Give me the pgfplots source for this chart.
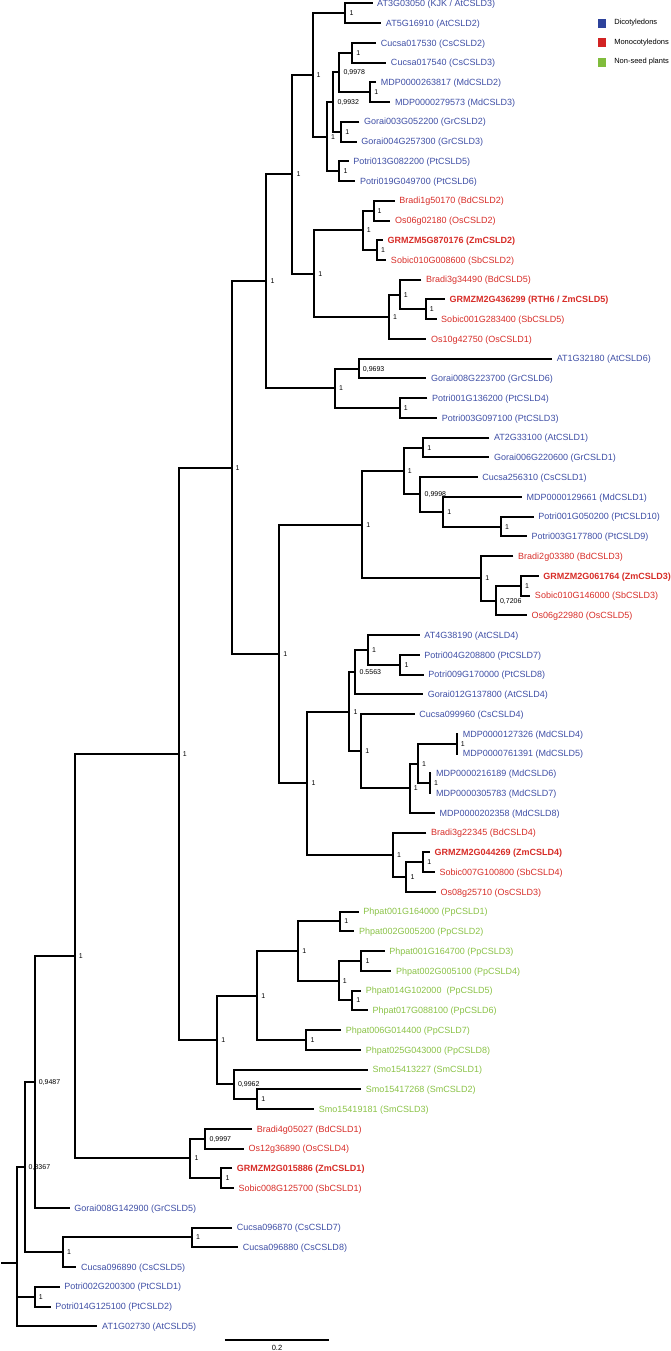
\documentclass[border=0pt]{standalone}
\usepackage{pgfplots}
\pgfplotsset{compat=1.18}
\usepackage{fontspec}
\setmainfont{Liberation Sans}
\definecolor{dicot}{RGB}{62,78,165}
\definecolor{mono}{RGB}{215,45,40}
\definecolor{nonseed}{RGB}{138,194,70}
\definecolor{dicotbox}{RGB}{45,66,155}
\definecolor{monobox}{RGB}{210,35,35}
\definecolor{nonseedbox}{RGB}{128,188,60}
\tikzset{tree/.style={black, line width=2bp, line join=miter, line cap=butt}}
\newcommand{\lf}[4]{\node[anchor=base west, inner sep=0pt, xshift=4.5bp, yshift=-3.2bp, text=#4, font=\fontsize{9}{10}\selectfont] at (axis cs:#1,#2) {#3};}
\newcommand{\bsv}[3]{\node[anchor=base west, inner sep=0pt, xshift=4bp, yshift=-2.5bp, font=\fontsize{7}{8}\selectfont] at (axis cs:#1,#2) {#3};}
\begin{document}
\begin{tikzpicture}
\begin{axis}[
  width=685bp, height=1351bp, scale only axis,
  xmin=0, xmax=685, ymin=0.6947, ymax=69.448, y dir=reverse,
  hide axis, clip=false,
  legend style={at={(axis description cs:0.8715,0.9845)}, anchor=north west, draw=none, fill=none,
    inner sep=0pt, row sep=11bp, column sep=9bp, font=\fontsize{7.5}{9}\selectfont,
    nodes={inner sep=0pt}},
  legend cell align=left,
]
\addlegendimage{legend image code/.code={\fill[dicotbox] (0bp,-4bp) rectangle (7bp,4bp);}}
\addlegendentry{Dicotyledons}
\addlegendimage{legend image code/.code={\fill[monobox] (0bp,-4bp) rectangle (7bp,4bp);}}
\addlegendentry{Monocotyledons}
\addlegendimage{legend image code/.code={\fill[nonseedbox] (0bp,-4bp) rectangle (7bp,4bp);}}
\addlegendentry{Non-seed plants}

% ---- tree branches (x in pixels, y in leaf index) ----
\addplot[tree, forget plot] coordinates {(373,1)(346,1)(346,2)(381.7,2)};
\addplot[tree, forget plot] coordinates {(376.7,3)(352.7,3)(352.7,4)(386.7,4)};
\addplot[tree, forget plot] coordinates {(376.7,5)(370.7,5)(370.7,6)(390.7,6)};
\addplot[tree, forget plot] coordinates {(352.7,3.5)(340,3.5)(340,5.5)(370.7,5.5)};
\addplot[tree, forget plot] coordinates {(360,7)(341.7,7)(341.7,8)(357.3,8)};
\addplot[tree, forget plot] coordinates {(340,4.5)(334,4.5)(334,7.5)(341.7,7.5)};
\addplot[tree, forget plot] coordinates {(349.3,9)(340,9)(340,10)(356,10)};
\addplot[tree, forget plot] coordinates {(334,6)(327.7,6)(327.7,9.5)(340,9.5)};
\addplot[tree, forget plot] coordinates {(346,1.5)(313.3,1.5)(313.3,7.75)(327.7,7.75)};
\addplot[tree, forget plot] coordinates {(395,11)(374,11)(374,12)(390.7,12)};
\addplot[tree, forget plot] coordinates {(383.3,13)(377.3,13)(377.3,14)(386.7,14)};
\addplot[tree, forget plot] coordinates {(374,11.5)(363.3,11.5)(363.3,13.5)(377.3,13.5)};
\addplot[tree, forget plot] coordinates {(445,16)(426,16)(426,17)(436.7,17)};
\addplot[tree, forget plot] coordinates {(421.7,15)(400,15)(400,16.5)(426,16.5)};
\addplot[tree, forget plot] coordinates {(400,15.75)(389.3,15.75)(389.3,18)(426.7,18)};
\addplot[tree, forget plot] coordinates {(363.3,12.5)(315,12.5)(315,16.875)(389.3,16.875)};
\addplot[tree, forget plot] coordinates {(313.3,4.625)(293.3,4.625)(293.3,14.6875)(315,14.6875)};
\addplot[tree, forget plot] coordinates {(551.7,19)(359.3,19)(359.3,20)(426.7,20)};
\addplot[tree, forget plot] coordinates {(427.7,21)(400,21)(400,22)(437.3,22)};
\addplot[tree, forget plot] coordinates {(359.3,19.5)(335.7,19.5)(335.7,21.5)(400,21.5)};
\addplot[tree, forget plot] coordinates {(293.3,9.656)(267.5,9.656)(267.5,20.5)(335.7,20.5)};
\addplot[tree, forget plot] coordinates {(489.3,23)(423.3,23)(423.3,24)(489.3,24)};
\addplot[tree, forget plot] coordinates {(533.3,27)(500.7,27)(500.7,28)(526.7,28)};
\addplot[tree, forget plot] coordinates {(521.7,26)(443.3,26)(443.3,27.5)(500.7,27.5)};
\addplot[tree, forget plot] coordinates {(477.7,25)(420.7,25)(420.7,26.75)(443.3,26.75)};
\addplot[tree, forget plot] coordinates {(423.3,23.5)(404,23.5)(404,25.875)(420.7,25.875)};
\addplot[tree, forget plot] coordinates {(538.3,30)(520.7,30)(520.7,31)(530,31)};
\addplot[tree, forget plot] coordinates {(520.7,30.5)(495.7,30.5)(495.7,32)(526.7,32)};
\addplot[tree, forget plot] coordinates {(513.3,29)(481,29)(481,31.25)(495.7,31.25)};
\addplot[tree, forget plot] coordinates {(404,24.6875)(362.7,24.6875)(362.7,30.125)(481,30.125)};
\addplot[tree, forget plot] coordinates {(420,34)(400.7,34)(400.7,35)(424,35)};
\addplot[tree, forget plot] coordinates {(420,33)(368.3,33)(368.3,34.5)(400.7,34.5)};
\addplot[tree, forget plot] coordinates {(368.3,33.75)(356,33.75)(356,36)(423.3,36)};
\addplot[tree, forget plot] coordinates {(458.3,38)(456.7,38)(456.7,39)(458.3,39)};
\addplot[tree, forget plot] coordinates {(431.7,40)(430,40)(430,41)(431.7,41)};
\addplot[tree, forget plot] coordinates {(456.7,38.5)(418.3,38.5)(418.3,40.5)(430,40.5)};
\addplot[tree, forget plot] coordinates {(418.3,39.5)(410,39.5)(410,42)(435,42)};
\addplot[tree, forget plot] coordinates {(415,37)(361.7,37)(361.7,40.75)(410,40.75)};
\addplot[tree, forget plot] coordinates {(356,34.875)(350,34.875)(350,38.875)(361.7,38.875)};
\addplot[tree, forget plot] coordinates {(430,44)(423.3,44)(423.3,45)(435,45)};
\addplot[tree, forget plot] coordinates {(423.3,44.5)(406.7,44.5)(406.7,46)(436,46)};
\addplot[tree, forget plot] coordinates {(426.7,43)(393.3,43)(393.3,45.25)(406.7,45.25)};
\addplot[tree, forget plot] coordinates {(350,36.875)(308.3,36.875)(308.3,44.125)(393.3,44.125)};
\addplot[tree, forget plot] coordinates {(362.7,27.406)(280,27.406)(280,40.5)(308.3,40.5)};
\addplot[tree, forget plot] coordinates {(267.5,15.078)(232.7,15.078)(232.7,33.953)(280,33.953)};
\addplot[tree, forget plot] coordinates {(359.3,47)(340.7,47)(340.7,48)(355,48)};
\addplot[tree, forget plot] coordinates {(385,49)(362,49)(362,50)(391.7,50)};
\addplot[tree, forget plot] coordinates {(361.7,51)(352.7,51)(352.7,52)(368.3,52)};
\addplot[tree, forget plot] coordinates {(362,49.5)(339.3,49.5)(339.3,51.5)(352.7,51.5)};
\addplot[tree, forget plot] coordinates {(340.7,47.5)(299,47.5)(299,50.5)(339.3,50.5)};
\addplot[tree, forget plot] coordinates {(341.7,53)(307.3,53)(307.3,54)(361.7,54)};
\addplot[tree, forget plot] coordinates {(299,49)(258.3,49)(258.3,53.5)(307.3,53.5)};
\addplot[tree, forget plot] coordinates {(361.7,56)(258.3,56)(258.3,57)(315,57)};
\addplot[tree, forget plot] coordinates {(368.3,55)(235,55)(235,56.5)(258.3,56.5)};
\addplot[tree, forget plot] coordinates {(258.3,51.25)(218.3,51.25)(218.3,55.75)(235,55.75)};
\addplot[tree, forget plot] coordinates {(232.7,24.516)(180,24.516)(180,53.5)(218.3,53.5)};
\addplot[tree, forget plot] coordinates {(253.3,58)(206.7,58)(206.7,59)(245,59)};
\addplot[tree, forget plot] coordinates {(233.3,60)(222.7,60)(222.7,61)(235,61)};
\addplot[tree, forget plot] coordinates {(206.7,58.5)(191.7,58.5)(191.7,60.5)(222.7,60.5)};
\addplot[tree, forget plot] coordinates {(180,39.008)(76.7,39.008)(76.7,59.5)(191.7,59.5)};
\addplot[tree, forget plot] coordinates {(76.7,49.254)(36.7,49.254)(36.7,62)(71.7,62)};
\addplot[tree, forget plot] coordinates {(233.3,63)(193.3,63)(193.3,64)(239.3,64)};
\addplot[tree, forget plot] coordinates {(193.3,63.5)(65,63.5)(65,65)(78.3,65)};
\addplot[tree, forget plot] coordinates {(36.7,55.627)(26.7,55.627)(26.7,64.25)(65,64.25)};
\addplot[tree, forget plot] coordinates {(61.7,66)(36.7,66)(36.7,67)(52.7,67)};
\addplot[tree, forget plot] coordinates {(26.7,59.94)(19.3,59.94)(19.3,68)(99.3,68)};
\addplot[tree, forget plot] coordinates {(19.3,66.5)(36.7,66.5)};
\addplot[tree, forget plot] coordinates {(3.3,64.82)(19.3,64.82)};
% scale bar
\addplot[tree, forget plot] coordinates {(226,68.72)(330,68.72)};
\node[anchor=north, inner sep=0pt, yshift=-5bp, font=\fontsize{7.5}{9}\selectfont] at (axis cs:278,68.72) {0.2};

% ---- leaf labels ----
\lf{373}{1}{AT3G03050 (KJK / AtCSLD3)}{dicot}
\lf{381.7}{2}{AT5G16910 (AtCSLD2)}{dicot}
\lf{376.7}{3}{Cucsa017530 (CsCSLD2)}{dicot}
\lf{386.7}{4}{Cucsa017540 (CsCSLD3)}{dicot}
\lf{376.7}{5}{MDP0000263817 (MdCSLD2)}{dicot}
\lf{390.7}{6}{MDP0000279573 (MdCSLD3)}{dicot}
\lf{360}{7}{Gorai003G052200 (GrCSLD2)}{dicot}
\lf{357.3}{8}{Gorai004G257300 (GrCSLD3)}{dicot}
\lf{349.3}{9}{Potri013G082200 (PtCSLD5)}{dicot}
\lf{356}{10}{Potri019G049700 (PtCSLD6)}{dicot}
\lf{395}{11}{Bradi1g50170 (BdCSLD2)}{mono}
\lf{390.7}{12}{Os06g02180 (OsCSLD2)}{mono}
\lf{383.3}{13}{\bfseries GRMZM5G870176 (ZmCSLD2)}{mono}
\lf{386.7}{14}{Sobic010G008600 (SbCSLD2)}{mono}
\lf{421.7}{15}{Bradi3g34490 (BdCSLD5)}{mono}
\lf{445}{16}{\bfseries GRMZM2G436299 (RTH6 / ZmCSLD5)}{mono}
\lf{436.7}{17}{Sobic001G283400 (SbCSLD5)}{mono}
\lf{426.7}{18}{Os10g42750 (OsCSLD1)}{mono}
\lf{551.7}{19}{AT1G32180 (AtCSLD6)}{dicot}
\lf{426.7}{20}{Gorai008G223700 (GrCSLD6)}{dicot}
\lf{427.7}{21}{Potri001G136200 (PtCSLD4)}{dicot}
\lf{437.3}{22}{Potri003G097100 (PtCSLD3)}{dicot}
\lf{489.3}{23}{AT2G33100 (AtCSLD1)}{dicot}
\lf{489.3}{24}{Gorai006G220600 (GrCSLD1)}{dicot}
\lf{477.7}{25}{Cucsa256310 (CsCSLD1)}{dicot}
\lf{521.7}{26}{MDP0000129661 (MdCSLD1)}{dicot}
\lf{533.3}{27}{Potri001G050200 (PtCSLD10)}{dicot}
\lf{526.7}{28}{Potri003G177800 (PtCSLD9)}{dicot}
\lf{513.3}{29}{Bradi2g03380 (BdCSLD3)}{mono}
\lf{538.3}{30}{\bfseries GRMZM2G061764 (ZmCSLD3)}{mono}
\lf{530}{31}{Sobic010G146000 (SbCSLD3)}{mono}
\lf{526.7}{32}{Os06g22980 (OsCSLD5)}{mono}
\lf{420}{33}{AT4G38190 (AtCSLD4)}{dicot}
\lf{420}{34}{Potri004G208800 (PtCSLD7)}{dicot}
\lf{424}{35}{Potri009G170000 (PtCSLD8)}{dicot}
\lf{423.3}{36}{Gorai012G137800 (AtCSLD4)}{dicot}
\lf{415}{37}{Cucsa099960 (CsCSLD4)}{dicot}
\lf{458.3}{38}{MDP0000127326 (MdCSLD4)}{dicot}
\lf{458.3}{39}{MDP0000761391 (MdCSLD5)}{dicot}
\lf{431.7}{40}{MDP0000216189 (MdCSLD6)}{dicot}
\lf{431.7}{41}{MDP0000305783 (MdCSLD7)}{dicot}
\lf{435}{42}{MDP0000202358 (MdCSLD8)}{dicot}
\lf{426.7}{43}{Bradi3g22345 (BdCSLD4)}{mono}
\lf{430}{44}{\bfseries GRMZM2G044269 (ZmCSLD4)}{mono}
\lf{435}{45}{Sobic007G100800 (SbCSLD4)}{mono}
\lf{436}{46}{Os08g25710 (OsCSLD3)}{mono}
\lf{359.3}{47}{Phpat001G164000 (PpCSLD1)}{nonseed}
\lf{355}{48}{Phpat002G005200 (PpCSLD2)}{nonseed}
\lf{385}{49}{Phpat001G164700 (PpCSLD3)}{nonseed}
\lf{391.7}{50}{Phpat002G005100 (PpCSLD4)}{nonseed}
\lf{361.7}{51}{Phpat014G102000\ \ (PpCSLD5)}{nonseed}
\lf{368.3}{52}{Phpat017G088100 (PpCSLD6)}{nonseed}
\lf{341.7}{53}{Phpat006G014400 (PpCSLD7)}{nonseed}
\lf{361.7}{54}{Phpat025G043000 (PpCSLD8)}{nonseed}
\lf{368.3}{55}{Smo15413227 (SmCSLD1)}{nonseed}
\lf{361.7}{56}{Smo15417268 (SmCSLD2)}{nonseed}
\lf{315}{57}{Smo15419181 (SmCSLD3)}{nonseed}
\lf{253.3}{58}{Bradi4g05027 (BdCSLD1)}{mono}
\lf{245}{59}{Os12g36890 (OsCSLD4)}{mono}
\lf{233.3}{60}{\bfseries GRMZM2G015886 (ZmCSLD1)}{mono}
\lf{235}{61}{Sobic008G125700 (SbCSLD1)}{mono}
\lf{71.7}{62}{Gorai008G142900 (GrCSLD5)}{dicot}
\lf{233.3}{63}{Cucsa096870 (CsCSLD7)}{dicot}
\lf{239.3}{64}{Cucsa096880 (CsCSLD8)}{dicot}
\lf{78.3}{65}{Cucsa096890 (CsCSLD5)}{dicot}
\lf{61.7}{66}{Potri002G200300 (PtCSLD1)}{dicot}
\lf{52.7}{67}{Potri014G125100 (PtCSLD2)}{dicot}
\lf{99.3}{68}{AT1G02730 (AtCSLD5)}{dicot}

% ---- branch support values ----
\bsv{346}{1.5}{1}
\bsv{352.7}{3.5}{1}
\bsv{370.7}{5.5}{1}
\bsv{340}{4.5}{0,9978}
\bsv{341.7}{7.5}{1}
\bsv{334}{6}{0,9932}
\bsv{340}{9.5}{1}
\bsv{327.7}{7.75}{1}
\bsv{313.3}{4.625}{1}
\bsv{374}{11.5}{1}
\bsv{377.3}{13.5}{1}
\bsv{363.3}{12.5}{1}
\bsv{426}{16.5}{1}
\bsv{400}{15.75}{1}
\bsv{389.3}{16.875}{1}
\bsv{315}{14.6875}{1}
\bsv{293.3}{9.656}{1}
\bsv{359.3}{19.5}{0,9693}
\bsv{400}{21.5}{1}
\bsv{335.7}{20.5}{1}
\bsv{267.5}{15.078}{1}
\bsv{423.3}{23.5}{1}
\bsv{500.7}{27.5}{1}
\bsv{443.3}{26.75}{1}
\bsv{420.7}{25.875}{0,9998}
\bsv{404}{24.6875}{1}
\bsv{520.7}{30.5}{1}
\bsv{495.7}{31.25}{0,7206}
\bsv{481}{30.125}{1}
\bsv{362.7}{27.406}{1}
\bsv{400.7}{34.5}{1}
\bsv{368.3}{33.75}{1}
\bsv{356}{34.875}{0.5563}
\bsv{456.7}{38.5}{1}
\bsv{430}{40.5}{1}
\bsv{418.3}{39.5}{1}
\bsv{410}{40.75}{1}
\bsv{361.7}{38.875}{1}
\bsv{350}{36.875}{1}
\bsv{423.3}{44.5}{1}
\bsv{406.7}{45.25}{1}
\bsv{393.3}{44.125}{1}
\bsv{308.3}{40.5}{1}
\bsv{280}{33.953}{1}
\bsv{232.7}{24.516}{1}
\bsv{340.7}{47.5}{1}
\bsv{362}{49.5}{1}
\bsv{352.7}{51.5}{1}
\bsv{339.3}{50.5}{1}
\bsv{299}{49}{1}
\bsv{307.3}{53.5}{1}
\bsv{258.3}{51.25}{1}
\bsv{258.3}{56.5}{1}
\bsv{235}{55.75}{0,9962}
\bsv{218.3}{53.5}{1}
\bsv{180}{39.008}{1}
\bsv{206.7}{58.5}{0,9997}
\bsv{222.7}{60.5}{1}
\bsv{191.7}{59.5}{1}
\bsv{76.7}{49.254}{1}
\bsv{36.7}{55.627}{0,9487}
\bsv{193.3}{63.5}{1}
\bsv{65}{64.25}{1}
\bsv{26.7}{59.94}{0,8367}
\bsv{36.7}{66.5}{1}
\end{axis}
\end{tikzpicture}
\end{document}
